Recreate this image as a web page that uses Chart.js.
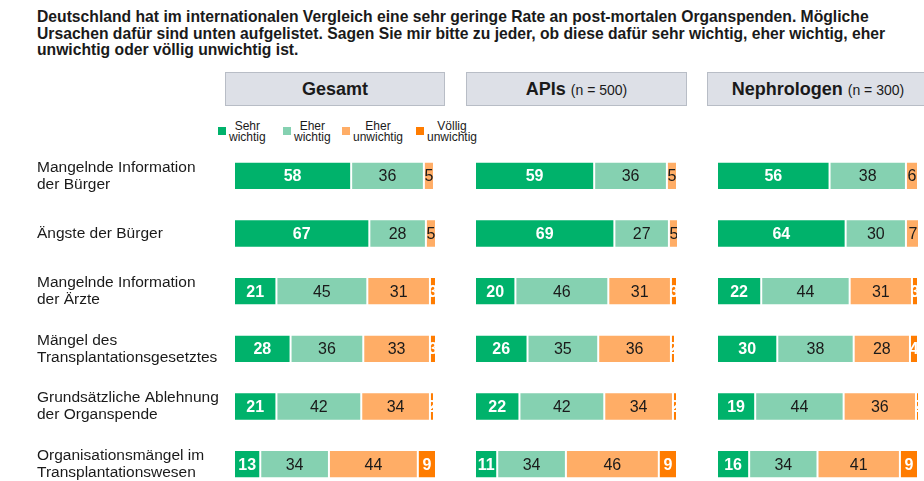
<!DOCTYPE html>
<html lang="de">
<head>
<meta charset="utf-8">
<script src="https://cdn.jsdelivr.net/npm/chart.js@4.4.1/dist/chart.umd.min.js"></script>
<style>
  html, body { margin: 0; padding: 0; background: #fff; }
  body { width: 924px; height: 481px; position: relative; overflow: hidden;
         font-family: "Liberation Sans", Arial, sans-serif; color: #1a1a1a; }
  #title { position: absolute; left: 37px; top: 9px; width: 885px; white-space: nowrap;
           font-weight: bold; font-size: 15.7px; line-height: 16.5px; }
  .head { position: absolute; top: 72px; height: 34px; box-sizing: border-box;
          background: #dde0e7; border: 1px solid #b8bdc6; text-align: center;
          line-height: 32px; font-size: 18px; font-weight: bold; white-space: nowrap; }
  .head span { font-weight: normal; font-size: 14px; }
  #legend { position: absolute; left: 218px; top: 121px; font-size: 12px; line-height: 11px; }
  .lg { position: absolute; top: 0; white-space: nowrap; text-align: center; }
  .lg i { position: absolute; left: 0; top: 6px; width: 8px; height: 8px; }
  .lg div { margin-left: 11px; }
  .panel { position: absolute; top: 147px; }
</style>
</head>
<body>
<div id="title">Deutschland hat im internationalen Vergleich eine sehr geringe Rate an post-mortalen Organspenden. Mögliche<br>Ursachen dafür sind unten aufgelistet. Sagen Sie mir bitte zu jeder, ob diese dafür sehr wichtig, eher wichtig, eher<br>unwichtig oder völlig unwichtig ist.</div>

<div class="head" style="left:225px;width:220px;">Gesamt</div>
<div class="head" style="left:466px;width:221px;">APIs <span>(n = 500)</span></div>
<div class="head" style="left:707px;width:222px;">Nephrologen <span>(n = 300)</span></div>

<div id="legend"></div>

<canvas id="c0" class="panel" style="left:37px" width="399" height="346"></canvas>
<canvas id="c1" class="panel" style="left:475px" width="202" height="346"></canvas>
<canvas id="c2" class="panel" style="left:717px" width="201" height="346"></canvas>

<script>
// Kategorien (Ursachen)
const categories = [
  ["Mangelnde Information", "der Bürger"],
  ["Ängste der Bürger"],
  ["Mangelnde Information", "der Ärzte"],
  ["Mängel des", "Transplantationsgesetztes"],
  ["Grundsätzliche Ablehnung", "der Organspende"],
  ["Organisationsmängel im", "Transplantationswesen"],
];

const seriesNames = [["Sehr", "wichtig"], ["Eher", "wichtig"], ["Eher", "unwichtig"], ["Völlig", "unwichtig"]];
const seriesColors = ["#00b26b", "#85d1b1", "#ffad66", "#ff7c00"];
const legendOffsets = [0, 65, 124, 198];

// Werte je Gruppe: [sehr wichtig, eher wichtig, eher unwichtig, völlig unwichtig]
const gesamtSehr = [58, 67, 21, 28, 21, 13];
const gesamtEher = [36, 28, 45, 36, 42, 34];
const gesamtEherUn = [5, 5, 31, 33, 34, 44];
const gesamtVoellig = [0, 0, 3, 3, 2, 9];

const apisSehr = [59, 69, 20, 26, 22, 11];
const apisEher = [36, 27, 46, 35, 42, 34];
const apisEherUn = [5, 5, 31, 36, 34, 46];
const apisVoellig = [0.6, 0, 3, 2, 2, 9];

const nephroSehr = [56, 64, 22, 30, 19, 16];
const nephroEher = [38, 30, 44, 38, 44, 34];
const nephroEherUn = [6, 7, 31, 28, 36, 41];
const nephroVoellig = [0, 0, 3, 4, 2, 9];

const FONT = '"Liberation Sans", Arial, sans-serif';

// Legende
const legendEl = document.getElementById("legend");
seriesNames.forEach((n, i) => {
  const d = document.createElement("div");
  d.className = "lg";
  d.style.left = legendOffsets[i] + "px";
  d.innerHTML = `<i style="background:${seriesColors[i]}"></i><div>${n.join("<br>")}</div>`;
  legendEl.appendChild(d);
});

// Werte in die Balken schreiben, auf das Segment beschnitten
const segmentLabels = {
  id: "segmentLabels",
  afterDatasetsDraw(chart) {
    const ctx = chart.ctx;
    chart.data.datasets.forEach((ds, di) => {
      const meta = chart.getDatasetMeta(di);
      meta.data.forEach((bar, i) => {
        const v = ds.data[i];
        if (v < 1) return;
        const left = Math.min(bar.x, bar.base);
        const w = Math.abs(bar.x - bar.base);
        const top = bar.y - bar.height / 2;
        ctx.save();
        ctx.beginPath();
        ctx.rect(left, top, w, bar.height);
        ctx.clip();
        const white = di === 0 || di === 3;
        ctx.font = (white ? "bold " : "") + "16px " + FONT;
        ctx.fillStyle = white ? "#ffffff" : "#1a1a1a";
        ctx.textAlign = "center";
        ctx.textBaseline = "middle";
        ctx.fillText(String(v), left + w / 2, bar.y + 1);
        ctx.restore();
      });
    });
  },
};

function makePanel(id, values, showLabels) {
  const yScale = {
    stacked: true,
    display: showLabels,
    grid: { display: false },
    border: { display: false },
    ticks: {
      crossAlign: "far",
      padding: 0,
      color: "#1a1a1a",
      font: { family: FONT, size: 15.5, lineHeight: 1.1 },
    },
  };
  if (showLabels) {
    yScale.afterFit = (axis) => {
      axis.width = 197;
      axis.paddingTop = 0;
      axis.paddingBottom = 0;
    };
  }
  return new Chart(document.getElementById(id), {
    type: "bar",
    data: {
      labels: categories,
      datasets: values.map((vals, i) => ({
        label: seriesNames[i].join(" "),
        data: vals,
        backgroundColor: seriesColors[i],
        borderColor: "#ffffff",
        borderWidth: 1,
        borderSkipped: false,
        barPercentage: 0.49,
        categoryPercentage: 1,
      })),
    },
    options: {
      indexAxis: "y",
      responsive: false,
      animation: false,
      layout: { padding: 0 },
      plugins: { legend: { display: false }, tooltip: { enabled: false } },
      scales: {
        x: { stacked: true, min: 0, max: 100, display: false },
        y: yScale,
      },
    },
    plugins: [segmentLabels],
  });
}

makePanel("c0", [gesamtSehr, gesamtEher, gesamtEherUn, gesamtVoellig], true);
makePanel("c1", [apisSehr, apisEher, apisEherUn, apisVoellig], false);
makePanel("c2", [nephroSehr, nephroEher, nephroEherUn, nephroVoellig], false);
</script>
</body>
</html>
